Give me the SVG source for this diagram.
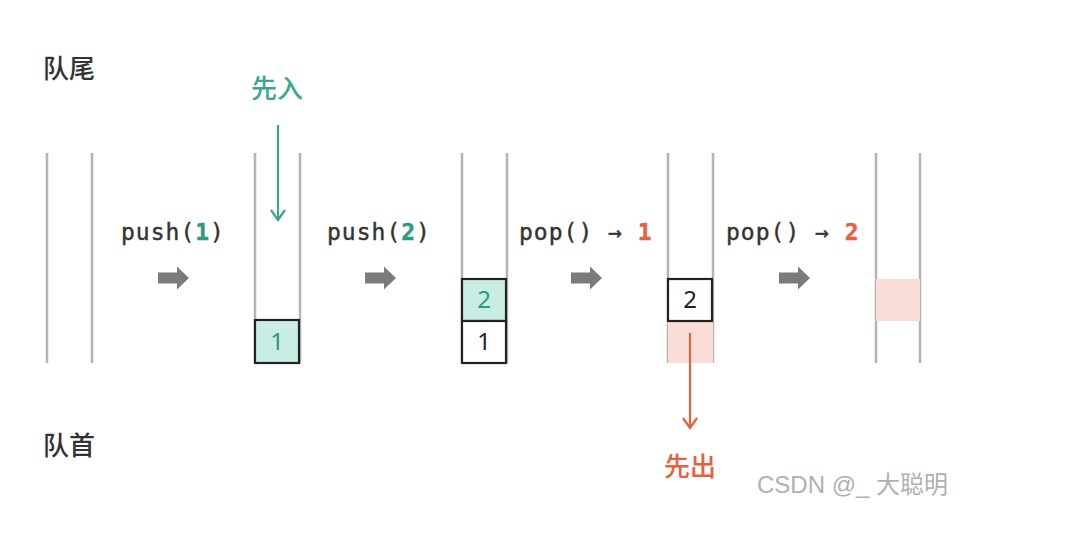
<svg xmlns="http://www.w3.org/2000/svg" width="1077" height="543" viewBox="0 0 1077 543">
<style>
.wall{stroke:#b4b4b4;stroke-width:2.5;fill:none}
.box{stroke:#222;stroke-width:2.2;}
.teal{fill:#c9ede5}
.pink{fill:#f9ddd6}
.cjk{font-family:"Noto Sans CJK SC","Noto Sans",sans-serif;font-size:26px;font-weight:500}
.mono{font-family:"DejaVu Sans Mono","Liberation Mono",monospace;font-size:23px;fill:#333;stroke:#333;stroke-width:0.4;letter-spacing:1px}
.num{font-family:"Noto Sans","DejaVu Sans",sans-serif;font-size:24px;text-anchor:middle}
.fat{fill:#7b7b7b}
</style>
<defs>
<path id="fat" d="M0,-5.5 H19 V-11.5 L31,0 L19,11.5 V5.5 H0 Z"/>
</defs>
<rect width="1077" height="543" fill="#fff"/>
<g id="labels">
<text class="cjk" x="43" y="78" fill="#333">队尾</text>
<text class="cjk" x="43" y="455" fill="#333">队首</text>
</g>
<g id="col1">
<line class="wall" x1="47" y1="153" x2="47" y2="363"/>
<line class="wall" x1="92" y1="153" x2="92" y2="363"/>
</g>
<g id="col2">
<line class="wall" x1="255" y1="153" x2="255" y2="363"/>
<line class="wall" x1="300" y1="153" x2="300" y2="363"/>
<rect class="box teal" x="255" y="320" width="44" height="43"/>
<text class="num" x="277" y="350" fill="#2a9a80">1</text>
</g>
<g id="col3">
<line class="wall" x1="462" y1="153" x2="462" y2="363"/>
<line class="wall" x1="507" y1="153" x2="507" y2="363"/>
<rect class="box teal" x="462" y="279" width="44" height="42"/>
<text class="num" x="484" y="308" fill="#2a9a80">2</text>
<rect class="box" fill="#fff" x="462" y="321" width="44" height="42"/>
<text class="num" x="484" y="350" fill="#222">1</text>
</g>
<g id="col4">
<line class="wall" x1="668" y1="153" x2="668" y2="363"/>
<line class="wall" x1="713" y1="153" x2="713" y2="363"/>
<rect class="pink" x="668" y="321" width="45" height="42"/>
<rect class="box" fill="#fff" x="668" y="279" width="44" height="42"/>
<text class="num" x="690" y="308" fill="#222">2</text>
</g>
<g id="col5">
<line class="wall" x1="876" y1="153" x2="876" y2="363"/>
<line class="wall" x1="920" y1="153" x2="920" y2="363"/>
<rect class="pink" x="876" y="279" width="44" height="42"/>
</g>
<g id="connectors">
<use href="#fat" class="fat" x="158" y="278"/>
<use href="#fat" class="fat" x="365" y="278"/>
<use href="#fat" class="fat" x="571" y="278"/>
<use href="#fat" class="fat" x="779" y="278"/>
<g stroke="#3aa88e" stroke-width="2.2" fill="none">
<line x1="278" y1="125" x2="278" y2="220"/>
<polyline points="271,210 278,220 285,210"/>
</g>
<g stroke="#e8603c" stroke-width="2.2" fill="none">
<line x1="690" y1="333" x2="690" y2="428"/>
<polyline points="683,418 690,428 697,418"/>
</g>
</g>
<g id="ops">
<text class="mono" x="121" y="240">push(<tspan fill="#2a9a80" stroke="#2a9a80" font-weight="bold">1</tspan>)</text>
<text class="mono" x="327" y="240">push(<tspan fill="#2a9a80" stroke="#2a9a80" font-weight="bold">2</tspan>)</text>
<text class="mono" x="519" y="240">pop() → <tspan fill="#e8603c" stroke="#e8603c" font-weight="bold">1</tspan></text>
<text class="mono" x="726" y="240">pop() → <tspan fill="#e8603c" stroke="#e8603c" font-weight="bold">2</tspan></text>
</g>
<g id="annot">
<text class="cjk" x="277" y="98" fill="#3aa88e" text-anchor="middle">先入</text>
<text class="cjk" x="690" y="476" fill="#e8603c" text-anchor="middle">先出</text>
<text x="757" y="493" font-family="Liberation Sans,'Noto Sans CJK SC',sans-serif" font-size="24" fill="#b0b0b0">CSDN @_ 大聪明</text>
</g>
</svg>
